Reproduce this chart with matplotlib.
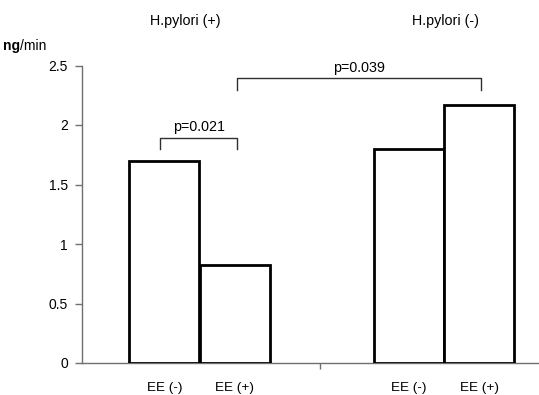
import matplotlib
matplotlib.use("Agg")
import matplotlib.pyplot as plt

plt.rcParams['font.family'] = ['Liberation Sans', 'DejaVu Sans']

groups = ["H.pylori (+)", "H.pylori (-)"]
bar_labels = ["EE (-)", "EE (+)", "EE (-)", "EE (+)"]
values = [1.70, 0.82, 1.80, 2.17]
yticks = [0, 0.5, 1, 1.5, 2, 2.5]
ytick_labels = ["0", "0.5", "1", "1.5", "2", "2.5"]
pvals = ["p=0.021", "p=0.039"]

W, H = 539, 395
fig = plt.figure(figsize=(W / 100, H / 100), dpi=100)
ax = fig.add_axes([82 / W, (H - 363) / H, (539 - 82) / W, (363 - 65.5) / H])

px = 238.0  # pixels per category unit
def xd(p):
    return (p - 82) / px - 0.5

centers = [xd(164.3), xd(234.6), xd(409.0), xd(479.0)]
bw = 70 / px
ax.bar(centers, values, width=bw, facecolor='white', edgecolor='black',
       linewidth=2.0, zorder=3)

ax.set_xlim(-0.5, xd(539))
ax.set_ylim(0, 2.5)
ax.set_yticks(yticks)
ax.set_yticklabels(ytick_labels, fontsize=10)
ax.set_xticks([0.5])
ax.set_xticklabels([""])
for s in ['top', 'right']:
    ax.spines[s].set_visible(False)
for s in ['left', 'bottom']:
    ax.spines[s].set_color('#707070')
    ax.spines[s].set_linewidth(1.0)
ax.tick_params(axis='y', direction='out', length=5, color='#707070', width=1, pad=5)
ax.tick_params(axis='x', direction='out', length=4, color='#707070', width=1)

for c, lab in zip(centers, bar_labels):
    ax.text(c, -0.16, lab, ha='center', va='top', fontsize=9.7)

# brackets
def ydata(p):
    return (363 - p) / 119.0
lc = '#303030'
x1a, x1b = xd(160), xd(237.3)
y1, y1l = ydata(137.7), ydata(149.3)
ax.plot([x1a, x1a, x1b, x1b], [y1l, y1, y1, y1l], color=lc, lw=1.0, clip_on=False, zorder=4)
ax.text((x1a + x1b) / 2, y1 + 0.03, pvals[0], ha='center', va='bottom', fontsize=10.3)

x2a, x2b = xd(236.7), xd(480.7)
y2, y2l = ydata(78.3), ydata(90)
ax.plot([x2a, x2a, x2b, x2b], [y2l, y2, y2, y2l], color=lc, lw=1.0, clip_on=False, zorder=4)
ax.text((x2a + x2b) / 2, y2 + 0.03, pvals[1], ha='center', va='bottom', fontsize=10.3)

# group headers
fig.text(185 / W, 1 - 21.5 / H, groups[0], ha='center', va='center', fontsize=10.3)
fig.text(445 / W, 1 - 21.5 / H, groups[1], ha='center', va='center', fontsize=10.3)

# y unit
t = fig.text(3 / W, 1 - 46 / H, "ng", ha='left', va='center', fontsize=10, fontweight='bold')
fig.canvas.draw()
bb = t.get_window_extent()
fig.text(bb.x1 / W, 1 - 46 / H, "/min", ha='left', va='center', fontsize=10)

fig.savefig("out.png", dpi=100)
